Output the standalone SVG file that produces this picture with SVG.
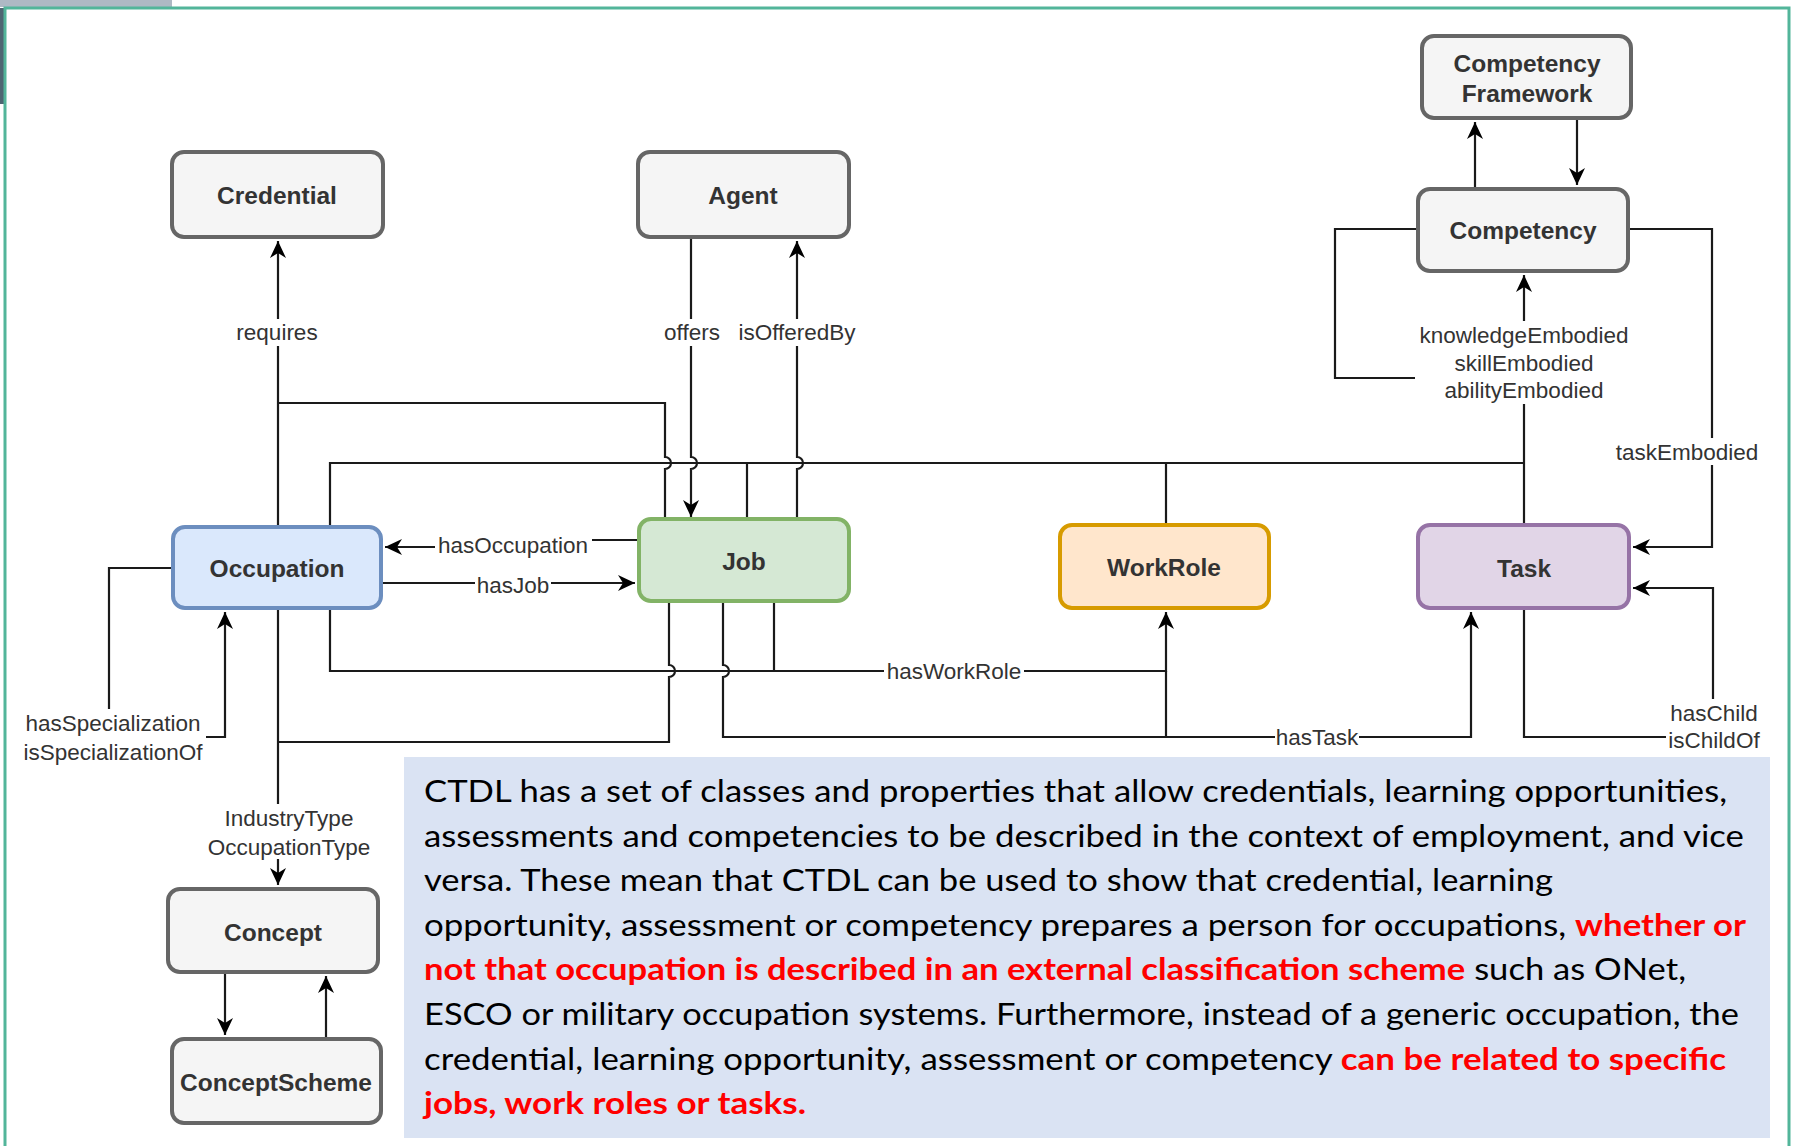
<svg xmlns="http://www.w3.org/2000/svg" width="1793" height="1146" viewBox="0 0 1793 1146">
<style>
.node rect{stroke-width:4}
.gray rect{fill:#f5f5f5;stroke:#666666}
.ntxt{font-family:"Liberation Sans",Arial,sans-serif;font-weight:bold;font-size:24.5px;fill:#333333;text-anchor:middle}
.edge{fill:none;stroke:#1a1a1a;stroke-width:2.2}
.lbl{font-family:"Liberation Sans",Arial,sans-serif;font-size:22.5px;fill:#333333;text-anchor:middle}
.lblbg{fill:#ffffff}
.para{font-family:Lato,"Open Sans",sans-serif;font-size:31px;fill:#000000}
.red{fill:#ff0000;font-weight:bold}
</style>
<defs>
<marker id="arr" markerUnits="userSpaceOnUse" markerWidth="18" markerHeight="16" refX="17" refY="8" orient="auto">
<path d="M0,0 L17,8 L0,16 L5,8 Z" fill="#000000"/>
</marker>
</defs>
<rect x="0" y="0" width="1793" height="1146" fill="#ffffff"/>
<g id="frame">
<rect x="0" y="0" width="172" height="7" fill="#aeb9c4"/>
<rect x="0" y="8" width="4" height="96" fill="#4e6672"/>
<path d="M5,1146 V8 H1789 V1146" fill="none" stroke="#52b59a" stroke-width="3"/>
</g>
<g id="description">
<rect x="404" y="757" width="1366" height="381" fill="#dae3f3"/>
<text class="para" x="424" y="802" textLength="1303" lengthAdjust="spacingAndGlyphs">CTDL has a set of classes and properties that allow credentials, learning opportunities,</text>
<text class="para" x="424" y="846.6" textLength="1320" lengthAdjust="spacingAndGlyphs">assessments and competencies to be described in the context of employment, and vice</text>
<text class="para" x="424" y="891.2" textLength="1129" lengthAdjust="spacingAndGlyphs">versa. These mean that CTDL can be used to show that credential, learning</text>
<text class="para" x="424" y="935.8" textLength="1322" lengthAdjust="spacingAndGlyphs">opportunity, assessment or competency prepares a person for occupations, <tspan class="red">whether or</tspan></text>
<text class="para" x="424" y="980.4" textLength="1262" lengthAdjust="spacingAndGlyphs"><tspan class="red">not that occupation is described in an external classification scheme</tspan> such as ONet,</text>
<text class="para" x="424" y="1025" textLength="1315" lengthAdjust="spacingAndGlyphs">ESCO or military occupation systems. Furthermore, instead of a generic occupation, the</text>
<text class="para" x="424" y="1069.6" textLength="1302" lengthAdjust="spacingAndGlyphs">credential, learning opportunity, assessment or competency <tspan class="red">can be related to specific</tspan></text>
<text class="para red" x="424" y="1114.2" textLength="382" lengthAdjust="spacingAndGlyphs">jobs, work roles or tasks.</text>
</g>
<g id="connectors">
<path class="edge" d="M278,525 V241" marker-end="url(#arr)"/>
<path class="edge" d="M665,517 V469 A6,6 0 0,0 665,457 V403 H278"/>
<path class="edge" d="M691,239 V457 A6,6 0 0,1 691,469 V517" marker-end="url(#arr)"/>
<path class="edge" d="M797,517 V469 A6,6 0 0,0 797,457 V241" marker-end="url(#arr)"/>
<path class="edge" d="M330,525 V463 H1524"/>
<path class="edge" d="M747,517 V463"/>
<path class="edge" d="M1166,523 V463"/>
<path class="edge" d="M1524,523 V275" marker-end="url(#arr)"/>
<path class="edge" d="M1416,229 H1335 V378 H1415"/>
<path class="edge" d="M1630,229 H1712 V547 H1633" marker-end="url(#arr)"/>
<path class="edge" d="M1524,610 V737 H1713 V588 H1633" marker-end="url(#arr)"/>
<path class="edge" d="M637,540 H562 V547 H385" marker-end="url(#arr)"/>
<path class="edge" d="M383,583 H635" marker-end="url(#arr)"/>
<path class="edge" d="M171,568 H109 V737 H225 V612" marker-end="url(#arr)"/>
<path class="edge" d="M278,610 V885" marker-end="url(#arr)"/>
<path class="edge" d="M669,603 V665 A6,6 0 0,1 669,677 V742 H278"/>
<path class="edge" d="M330,610 V671 H1166 V612" marker-end="url(#arr)"/>
<path class="edge" d="M774,603 V671"/>
<path class="edge" d="M723,603 V665 A6,6 0 0,1 723,677 V737 H1471 V612" marker-end="url(#arr)"/>
<path class="edge" d="M1166,671 V737"/>
<path class="edge" d="M1475,187 V122" marker-end="url(#arr)"/>
<path class="edge" d="M1577,120 V185" marker-end="url(#arr)"/>
<path class="edge" d="M225,974 V1035" marker-end="url(#arr)"/>
<path class="edge" d="M326,1037 V976" marker-end="url(#arr)"/>
<rect class="lblbg" x="236" y="319" width="83" height="27"/>
<text class="lbl" x="277" y="340">requires</text>
<rect class="lblbg" x="663" y="319" width="58" height="27"/>
<text class="lbl" x="692" y="340">offers</text>
<rect class="lblbg" x="737" y="319" width="120" height="27"/>
<text class="lbl" x="797" y="340">isOfferedBy</text>
<rect class="lblbg" x="1415" y="321" width="218" height="83"/>
<text class="lbl" x="1524" y="343">knowledgeEmbodied</text>
<text class="lbl" x="1524" y="371">skillEmbodied</text>
<text class="lbl" x="1524" y="398">abilityEmbodied</text>
<rect class="lblbg" x="1613" y="438" width="148" height="27"/>
<text class="lbl" x="1687" y="460">taskEmbodied</text>
<rect class="lblbg" x="1666" y="699" width="96" height="55"/>
<text class="lbl" x="1714" y="721">hasChild</text>
<text class="lbl" x="1714" y="748">isChildOf</text>
<rect class="lblbg" x="435" y="531" width="157" height="27"/>
<text class="lbl" x="513" y="553">hasOccupation</text>
<rect class="lblbg" x="475" y="571" width="76" height="27"/>
<text class="lbl" x="513" y="593">hasJob</text>
<rect class="lblbg" x="20" y="709" width="186" height="55"/>
<text class="lbl" x="113" y="731">hasSpecialization</text>
<text class="lbl" x="113" y="760">isSpecializationOf</text>
<rect class="lblbg" x="205" y="804" width="168" height="55"/>
<text class="lbl" x="289" y="826">IndustryType</text>
<text class="lbl" x="289" y="855">OccupationType</text>
<rect class="lblbg" x="884" y="658" width="140" height="27"/>
<text class="lbl" x="954" y="679">hasWorkRole</text>
<rect class="lblbg" x="1275" y="724" width="84" height="27"/>
<text class="lbl" x="1317" y="745">hasTask</text>
</g>
<g id="node-credential" class="node gray"><rect x="172" y="152" width="211" height="85" rx="12"/><text class="ntxt" x="277" y="204">Credential</text></g>
<g id="node-agent" class="node gray"><rect x="638" y="152" width="211" height="85" rx="12"/><text class="ntxt" x="743" y="204">Agent</text></g>
<g id="node-competency-framework" class="node gray"><rect x="1422" y="36" width="209" height="82" rx="12"/><text class="ntxt" x="1527" y="72">Competency</text><text class="ntxt" x="1527" y="102">Framework</text></g>
<g id="node-competency" class="node gray"><rect x="1418" y="189" width="210" height="82" rx="12"/><text class="ntxt" x="1523" y="239">Competency</text></g>
<g id="node-occupation" class="node"><rect x="173" y="527" width="208" height="81" rx="12" fill="#dae8fc" stroke="#6c8ebf"/><text class="ntxt" x="277" y="577">Occupation</text></g>
<g id="node-job" class="node"><rect x="639" y="519" width="210" height="82" rx="12" fill="#d5e8d4" stroke="#82b366"/><text class="ntxt" x="744" y="570">Job</text></g>
<g id="node-workrole" class="node"><rect x="1060" y="525" width="209" height="83" rx="12" fill="#ffe6cc" stroke="#d79b00"/><text class="ntxt" x="1164" y="576">WorkRole</text></g>
<g id="node-task" class="node"><rect x="1418" y="525" width="211" height="83" rx="12" fill="#e1d5e7" stroke="#9673a6"/><text class="ntxt" x="1524" y="577">Task</text></g>
<g id="node-concept" class="node gray"><rect x="168" y="889" width="210" height="83" rx="12"/><text class="ntxt" x="273" y="941">Concept</text></g>
<g id="node-conceptscheme" class="node gray"><rect x="172" y="1039" width="209" height="84" rx="12"/><text class="ntxt" x="276" y="1091">ConceptScheme</text></g>
</svg>
